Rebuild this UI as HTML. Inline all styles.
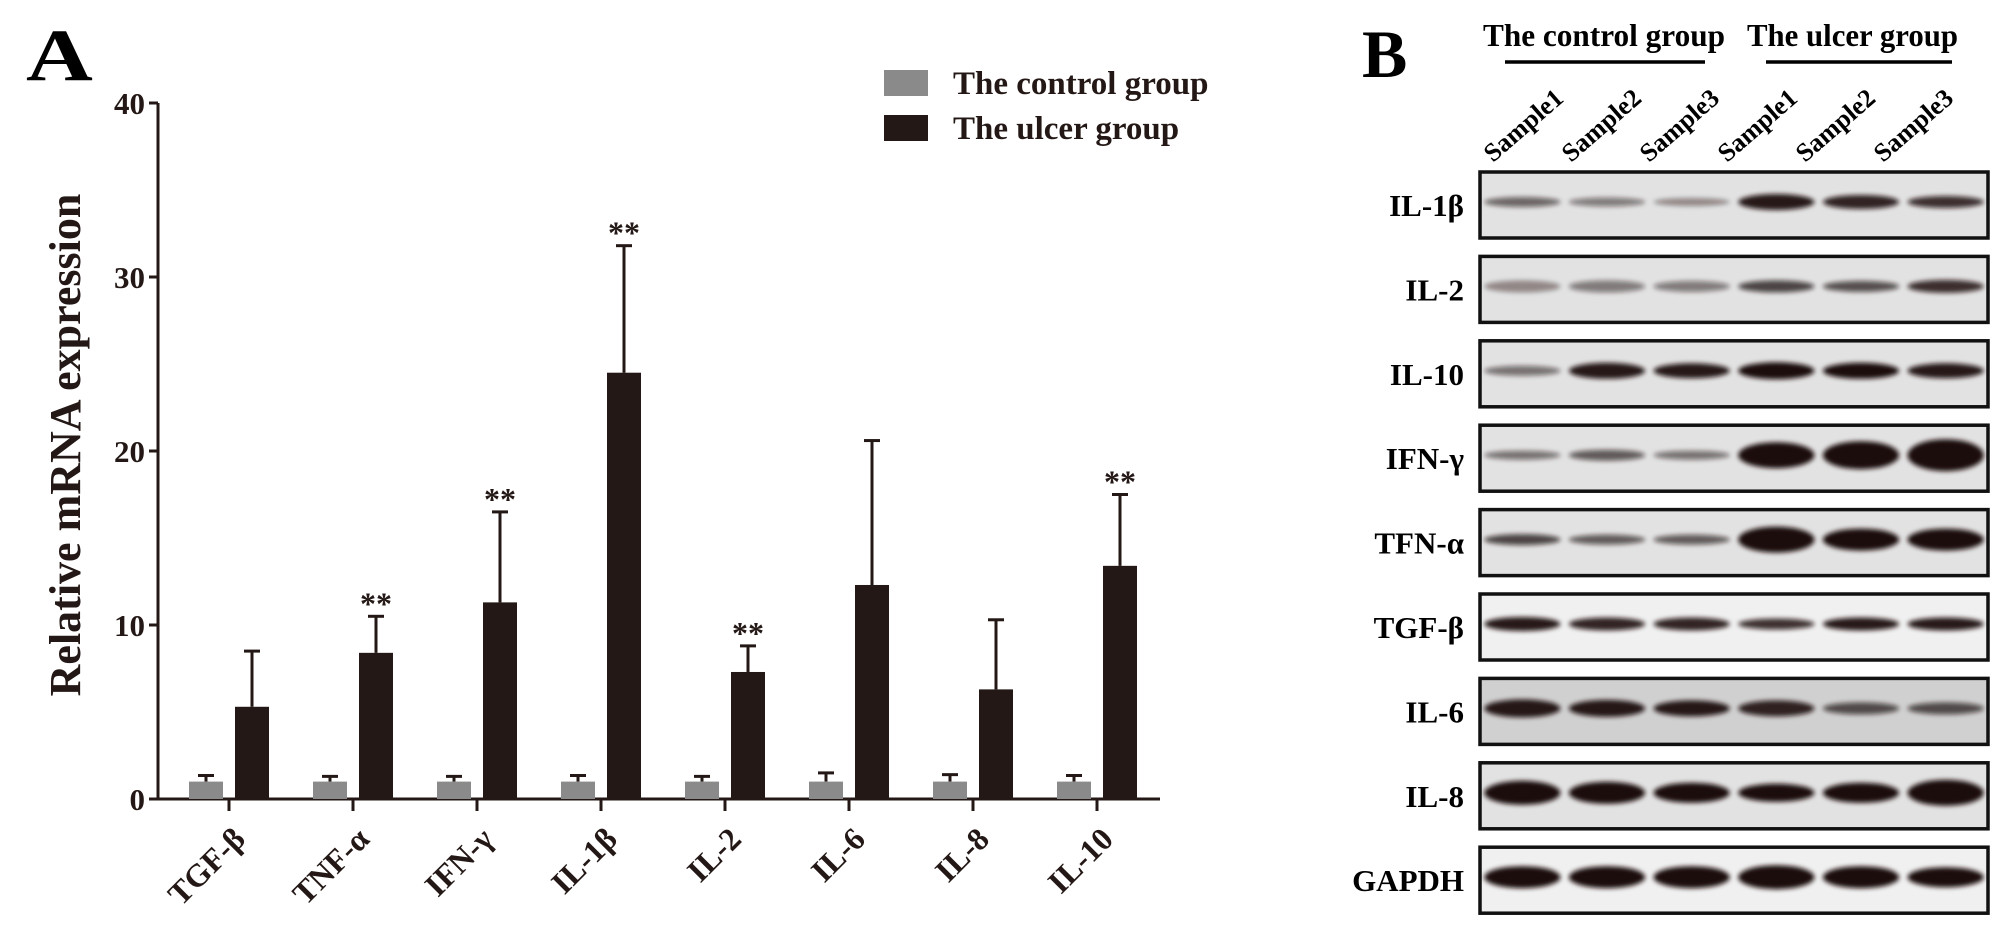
<!DOCTYPE html>
<html><head><meta charset="utf-8"><style>
html,body{margin:0;padding:0;background:#fff;}
svg{display:block;font-family:"Liberation Serif",serif;font-weight:bold;}
</style></head><body>
<svg id="fig" width="2008" height="945" viewBox="0 0 2008 945" xmlns="http://www.w3.org/2000/svg">
<g id="panelA"></g>
<g id="panelB"></g>
</svg>
<script>
const categories = ["TGF-β","TNF-α","IFN-γ","IL-1β","IL-2","IL-6","IL-8","IL-10"];
const controlValues = [1.0,1.0,1.0,1.0,1.0,1.0,1.0,1.0];
const controlErrors = [0.35,0.3,0.3,0.35,0.3,0.5,0.4,0.35];
const ulcerValues = [5.3,8.4,11.3,24.5,7.3,12.3,6.3,13.4];
const ulcerErrors = [3.2,2.1,5.2,7.3,1.5,8.3,4.0,4.1];
const significant = [false,true,true,true,true,false,false,true];
const yTicks = [0,10,20,30,40];
const blotRows = ["IL-1β","IL-2","IL-10","IFN-γ","TFN-α","TGF-β","IL-6","IL-8","GAPDH"];
const sampleLabels = ["Sample1","Sample2","Sample3","Sample1","Sample2","Sample3"];
const bandIntensity = [
 [0.6,0.5,0.4,0.95,0.9,0.85],
 [0.4,0.5,0.5,0.75,0.7,0.85],
 [0.55,0.95,0.95,1,1,0.95],
 [0.55,0.65,0.55,1,1,1],
 [0.75,0.65,0.65,1,1,1],
 [0.95,0.9,0.9,0.85,0.95,0.95],
 [0.95,0.95,0.95,0.9,0.7,0.7],
 [1,1,1,1,1,1],
 [1,1,1,1,1,1]];
const bandThick = [
 [8,7,6,14,12,10],[10,10,9,10,9,11],[8,14,13,15,14,13],[7,9,7,24,26,30],
 [9,8,8,24,20,20],[12,11,11,9,11,11],[16,15,14,14,10,10],[22,20,18,16,18,24],[20,20,20,22,20,18]];

const NS="http://www.w3.org/2000/svg";
function mk(tag,attrs,parent){const e=document.createElementNS(NS,tag);for(const k in attrs)e.setAttribute(k,attrs[k]);parent.appendChild(e);return e;}

// ---- Panel A ----
const A=document.getElementById('panelA');
const x0=158, y0=799, pxPerUnit=(799-103)/40, groupW=124, firstCtrl=189, barW=34, gap=12;
function yS(v){return y0-v*pxPerUnit;}
function ctrlX(i){return firstCtrl+i*groupW;}
function ulcX(i){return ctrlX(i)+barW+gap;}

let t=mk('text',{x:26,y:80,'font-size':74,transform:'translate(26,80) scale(1.25,1) translate(-26,-80)'},A);t.textContent='A';



let yl=mk('line',{x1:x0,y1:yS(40),x2:x0,y2:y0+1,stroke:'#231815','stroke-width':3},A);


let xl=mk('line',{x1:x0-1,y1:y0,x2:1160,y2:y0,stroke:'#231815','stroke-width':3},A);


yTicks.forEach(v=>{
  const tk=mk('line',{x1:x0-9,y1:yS(v),x2:x0,y2:yS(v),stroke:'#231815','stroke-width':3},A);
  
  
  const lb=mk('text',{x:x0-13,y:yS(v)+11,'font-size':31,'text-anchor':'end',fill:'#231815'},A);
  lb.textContent=v;
  
  
});
let yt=mk('text',{x:0,y:0,'font-size':44,'text-anchor':'middle',fill:'#231815',transform:'translate(80,445) rotate(-90)'},A);
yt.textContent='Relative mRNA expression';



function errBar(cx,v,e,name){
  const g=mk('g',{},A);
  
  
  mk('line',{x1:cx,y1:yS(v),x2:cx,y2:yS(v+e),stroke:'#231815','stroke-width':3},g);
  mk('line',{x1:cx-8,y1:yS(v+e),x2:cx+8,y2:yS(v+e),stroke:'#231815','stroke-width':3},g);
}
categories.forEach((c,i)=>{
  errBar(ctrlX(i)+barW/2,controlValues[i],controlErrors[i],'control-error-bar');
  errBar(ulcX(i)+barW/2,ulcerValues[i],ulcerErrors[i],'ulcer-error-bar');
  const b1=mk('rect',{x:ctrlX(i),y:yS(controlValues[i]),width:barW,height:y0-yS(controlValues[i]),fill:'#8a8a8a'},A);
  
  
  const b2=mk('rect',{x:ulcX(i),y:yS(ulcerValues[i]),width:barW,height:y0-yS(ulcerValues[i]),fill:'#231815'},A);
  
  
  if(significant[i]){
    const s=mk('text',{x:ulcX(i)+barW/2,y:yS(ulcerValues[i]+ulcerErrors[i])-2,'font-size':32,'text-anchor':'middle',fill:'#231815'},A);
    s.textContent='**';
    
    
  }
  const tx=ctrlX(i)+barW+gap/2;
  const tk=mk('line',{x1:tx,y1:y0,x2:tx,y2:y0+12,stroke:'#231815','stroke-width':3},A);
  
  
  const lb=mk('text',{x:0,y:0,'font-size':32,'text-anchor':'end',fill:'#231815',transform:`translate(${tx+18},${y0+42}) rotate(-45)`},A);
  lb.textContent=c;
  
  
});
// legend
[['The control group','#8a8a8a',70],['The ulcer group','#231815',115]].forEach(([txt,col,y])=>{
  const g=mk('g',{},A);
  
  
  mk('rect',{x:884,y:y,width:44,height:26,fill:col},g);
  const l=mk('text',{x:953,y:y+24,'font-size':33,fill:'#231815'},g);l.textContent=txt;
});

// ---- Panel B ----
const B=document.getElementById('panelB');
let bl=mk('text',{x:1362,y:77,'font-size':68},B);bl.textContent='B';


[['The control group',1483,1505,1705,242],['The ulcer group',1747,1766,1952,211]].forEach(([txt,x,l1,l2,w])=>{
  const g=mk('g',{},B);
  
  
  const tt=mk('text',{x:x,y:46,'font-size':32,textLength:w,lengthAdjust:'spacingAndGlyphs'},g);tt.textContent=txt;
  mk('line',{x1:l1,y1:62,x2:l2,y2:62,stroke:'#000','stroke-width':3.5},g);
});
const boxL=1480, boxR=1988, boxTop=172, pitch=84.4, boxH=66;
const laneW=(boxR-boxL)/6;
sampleLabels.forEach((s,j)=>{
  const x=1493+j*78;
  const lb=mk('text',{x:0,y:0,'font-size':26,transform:`translate(${x},${163}) rotate(-41)`},B);
  lb.textContent=s;
  
  
});
const defs=mk('defs',{},B);
const flt=mk('filter',{id:'blur',x:'-20%',y:'-100%',width:'140%',height:'300%'},defs);
mk('feGaussianBlur',{stdDeviation:2.5},flt);
blotRows.forEach((r,i)=>{
  const top=boxTop+i*pitch;
  const g=mk('g',{},B);
  
  
  const lb=mk('text',{x:1464,y:top+boxH/2+11,'font-size':31,'text-anchor':'end'},g);lb.textContent=r;
  const bg=(i==6)?'#d0d0d0':(i==5||i==8)?'#f0f0f0':'#e2e2e2';
  mk('rect',{x:boxL,y:top,width:boxR-boxL,height:boxH,fill:bg,stroke:'#111','stroke-width':3.5},g);
  bandIntensity[i].forEach((v,j)=>{
    const cx=boxL+laneW*(j+0.5);
    const h=bandThick[i][j];
    const band=mk('ellipse',{cx:cx,cy:top+boxH/2-3,rx:laneW*0.45,ry:h/2+1,fill:'#1e0f0f','fill-opacity':v,filter:'url(#blur)'},g);
    
    
  });
});
</script>
</body></html>
